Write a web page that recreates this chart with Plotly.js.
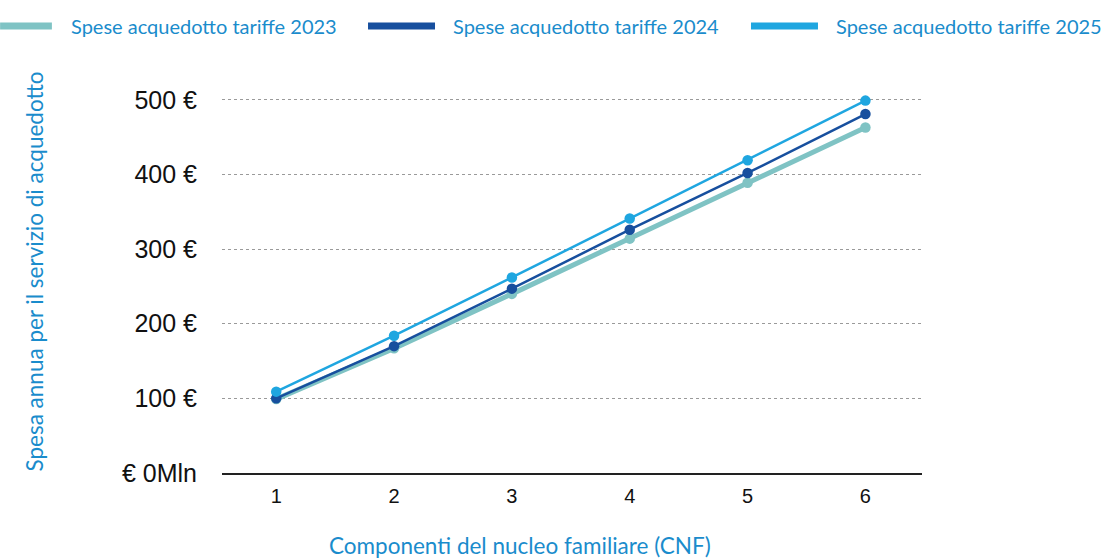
<!DOCTYPE html>
<html>
<head>
<meta charset="utf-8">
<script src="https://cdn.plot.ly/plotly-3.0.1.min.js"></script>
<style>html,body{margin:0;padding:0;background:#fff}#chart{width:1104px;height:559px}</style>
</head>
<body>
<div id="chart"></div>
<script>
const categories = [1, 2, 3, 4, 5, 6];
const spese2023 = [99, 167, 240, 314, 389, 463];
const spese2024 = [100, 170, 247, 326, 402, 481];
const spese2025 = [109, 184, 262, 341, 419, 499];
const seriesNames = ["Spese acquedotto tariffe 2023", "Spese acquedotto tariffe 2024", "Spese acquedotto tariffe 2025"];
const yTickVals = [0, 100, 200, 300, 400, 500];
const yTickText = ["€ 0Mln", "100 €", "200 €", "300 €", "400 €", "500 €"];
const xTitle = "Componenti del nucleo familiare (CNF)";
const yTitle = "Spesa annua per il servizio di acquedotto";

const colors = ["#7fc3c4", "#174f9e", "#1fa6e0"];
const widths = [5, 2.5, 2.5];
const seriesVals = [spese2023, spese2024, spese2025];
const textBlue = "#1a8ccc";

const traces = seriesVals.map((vals, i) => ({
  x: categories, y: vals, name: seriesNames[i], type: "scatter", mode: "lines+markers",
  line: {color: colors[i], width: widths[i]},
  marker: {color: colors[i], size: 10.5},
  showlegend: false
}));

// custom legend placed like the reference (paper coords)
const legendY = 1.109;
const legendSamples = [[-0.317, -0.243], [0.2086, 0.3043], [0.7557, 0.8514]];
const legendTextX = [-0.2186, 0.3271, 0.8743];
const shapes = legendSamples.map((s, i) => ({
  type: "line", xref: "paper", yref: "paper", x0: s[0], x1: s[1], y0: legendY, y1: legendY,
  line: {color: colors[i], width: 7}
}));
const annotations = seriesNames.map((n, i) => ({
  text: n, xref: "paper", yref: "paper", x: legendTextX[i], y: legendY,
  xanchor: "left", yanchor: "middle", showarrow: false,
  font: {family: "Lato, sans-serif", size: 20, color: textBlue}
}));
annotations.push({
  text: xTitle, xref: "paper", yref: "paper", x: 0.4257, y: -0.181,
  xanchor: "center", yanchor: "middle", showarrow: false,
  font: {family: "Lato, sans-serif", size: 22.5, color: textBlue}
});

const layout = {
  width: 1104, height: 559,
  margin: {l: 222, r: 182, t: 70, b: 86},
  paper_bgcolor: "#fff", plot_bgcolor: "#fff",
  font: {family: "Lato, sans-serif", color: "#111"},
  showlegend: false,
  shapes: shapes,
  annotations: annotations,
  xaxis: {
    range: [0.54, 6.48], tickvals: categories, ticktext: categories.map(String),
    showgrid: false, zeroline: false, showline: true, linecolor: "#222", linewidth: 1.5,
    ticks: "", tickfont: {family: "Liberation Sans, Arial, sans-serif", size: 20, color: "#111"},
    ticklabelstandoff: 4
  },
  yaxis: {
    range: [0, 540], tickvals: yTickVals, ticktext: yTickText,
    showgrid: true, gridcolor: "#9a9a9a", griddash: "dot", gridwidth: 1,
    zeroline: false, showline: false, ticks: "",
    tickfont: {family: "Liberation Sans, Arial, sans-serif", size: 25, color: "#111"},
    ticklabelstandoff: 24,
    title: {text: yTitle, font: {family: "Lato, sans-serif", size: 22.5, color: textBlue}, standoff: 72}
  }
};

Plotly.newPlot("chart", traces, layout, {displayModeBar: false, staticPlot: true});
</script>
</body>
</html>
